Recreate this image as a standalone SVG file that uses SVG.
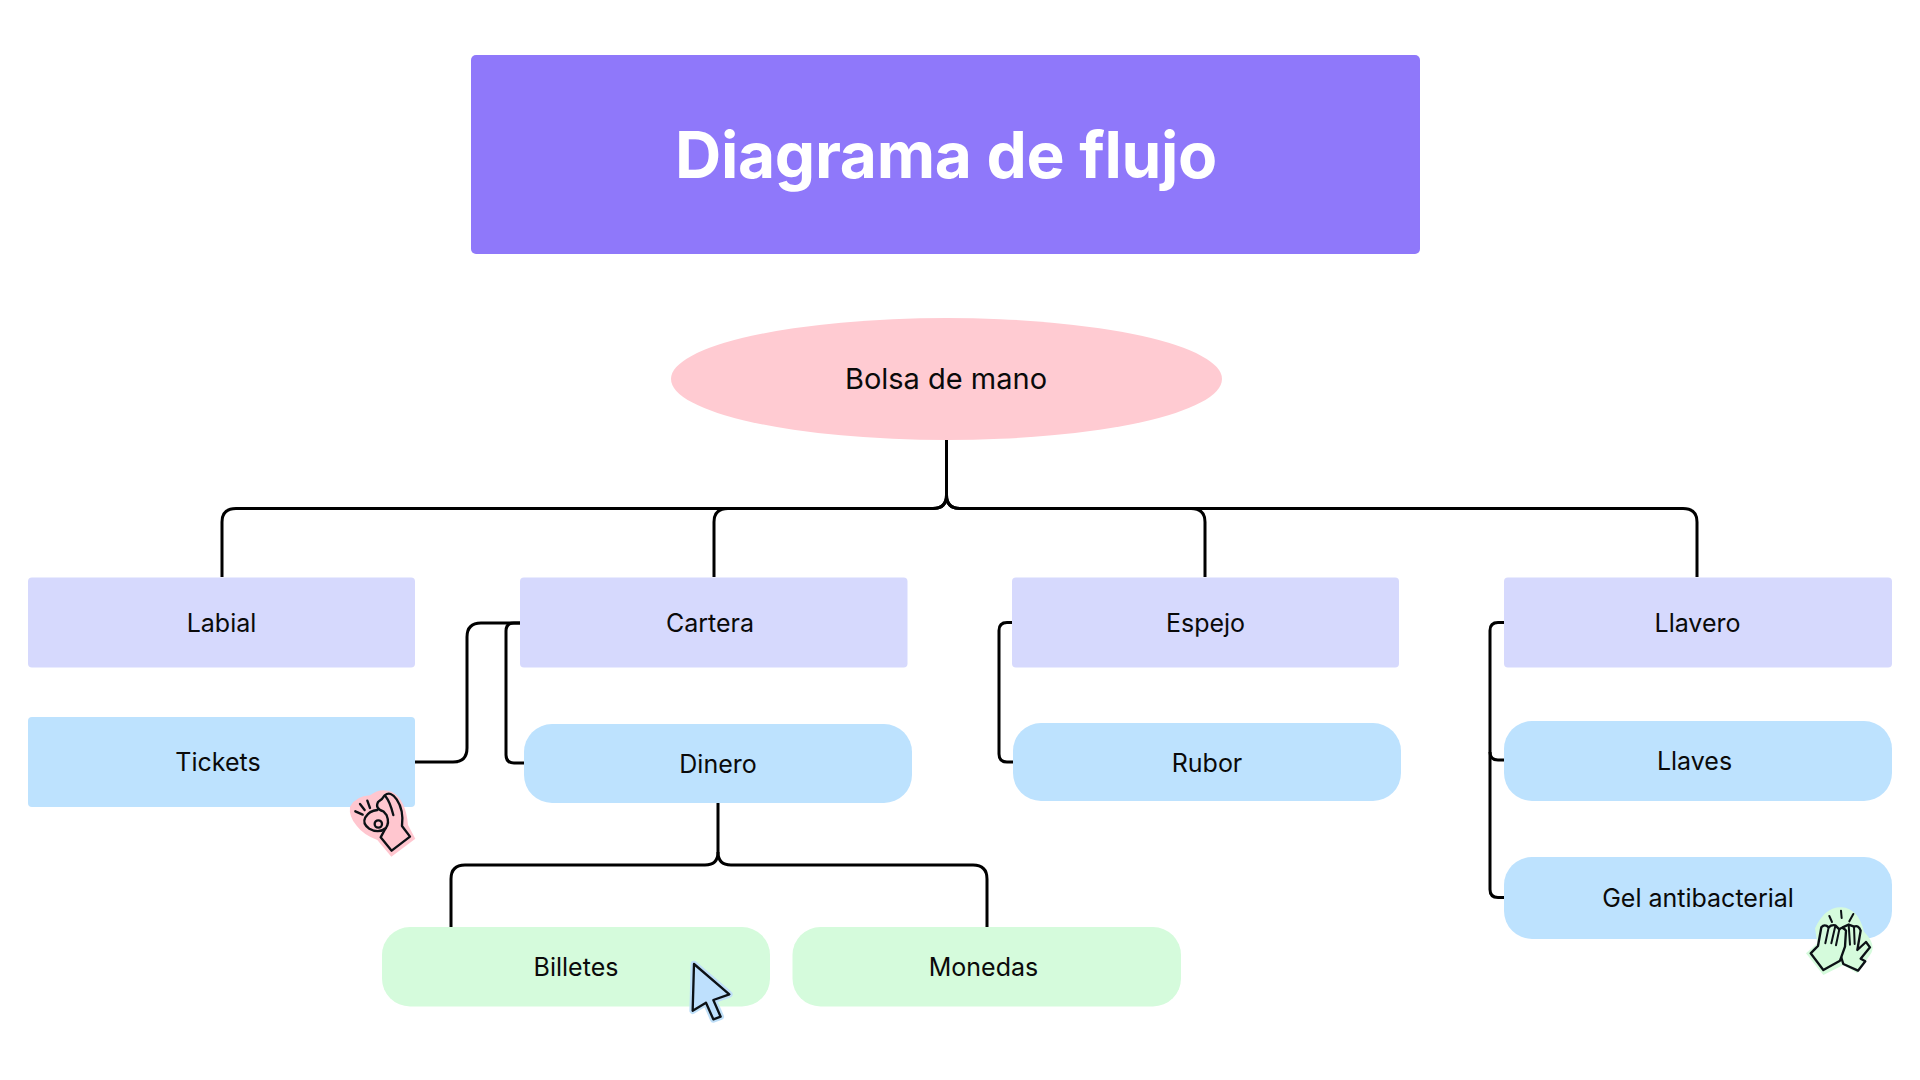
<svg xmlns="http://www.w3.org/2000/svg" width="1920" height="1080" viewBox="0 0 1920 1080">
<style>
text{font-family:Inter,"Liberation Sans",sans-serif;font-size:25px;fill:#0a0a0a;text-anchor:middle;dominant-baseline:central}
.title{font-size:64px;font-weight:700;fill:#fff;letter-spacing:-.3px}
.purple{fill:#d6d9fd}.blue{fill:#bde2fe}.green{fill:#d5fbdc}
.c{fill:none;stroke:#000;stroke-width:3;stroke-linejoin:round;stroke-linecap:butt}
.ink{stroke:#0c1116;stroke-width:7;stroke-linejoin:round;stroke-linecap:round}
</style>
<rect width="1920" height="1080" fill="#fff"/>
<g id="connectors">
<path class="c" d="M946.500 440V495Q946.500 508.500 933 508.500H236Q222 508.500 222 522V577"/>
<path class="c" d="M946.500 495Q946.500 508.500 933 508.500H728Q714 508.500 714 522V577"/>
<path class="c" d="M946.500 495Q946.500 508.500 960 508.500H1191Q1205 508.500 1205 522V577"/>
<path class="c" d="M946.500 495Q946.500 508.500 960 508.500H1683Q1697 508.500 1697 522V577"/>
<path class="c" d="M415 762H453Q467 762 467 748V637Q467 623 481 623H520"/>
<path class="c" d="M520 623H514Q506 623 506 631V755Q506 763 514 763H524"/>
<path class="c" d="M1012 622.500H1007Q999 622.500 999 630.500V754Q999 762 1007 762H1013"/>
<path class="c" d="M1504 622.500H1498Q1490 622.500 1490 630.500V889.500Q1490 897.500 1498 897.500H1504"/>
<path class="c" d="M1490 752Q1490 760 1498 760H1504"/>
<path class="c" d="M718 802V852Q718 865 705 865H465Q451 865 451 879V927"/>
<path class="c" d="M718 852Q718 865 731 865H973Q987 865 987 879V927"/>
</g>
<g id="title"><rect x="471" y="55" width="949" height="199" rx="5" fill="#8f78fa"/><text class="title" x="946" y="154">Diagrama de flujo</text></g>
<g id="bolsa"><ellipse cx="946.500" cy="379" rx="275.500" ry="61" fill="#ffcbd2"/><text x="946" y="378" style="font-size:29px">Bolsa de mano</text></g>
<g id="labial"><rect class="purple" x="28" y="577.500" width="387" height="90" rx="4"/><text x="221.500" y="623">Labial</text></g>
<g id="cartera"><rect class="purple" x="520" y="577.500" width="387.500" height="90" rx="4"/><text x="710" y="623">Cartera</text></g>
<g id="espejo"><rect class="purple" x="1012" y="577.500" width="387" height="90" rx="4"/><text x="1205.500" y="623">Espejo</text></g>
<g id="llavero"><rect class="purple" x="1504" y="577.500" width="388" height="90" rx="4"/><text x="1697.500" y="623">Llavero</text></g>
<g id="tickets"><rect class="blue" x="28" y="717" width="387" height="90" rx="4"/><text x="218" y="762">Tickets</text></g>
<g id="dinero"><rect class="blue" x="524" y="724" width="388" height="79" rx="28"/><text x="718" y="764">Dinero</text></g>
<g id="rubor"><rect class="blue" x="1013" y="723" width="388" height="78" rx="28"/><text x="1207" y="763">Rubor</text></g>
<g id="llaves"><rect class="blue" x="1504" y="721" width="388" height="80" rx="28"/><text x="1694.500" y="761">Llaves</text></g>
<g id="gel"><rect class="blue" x="1504" y="857" width="388" height="82" rx="28"/><text x="1698" y="898">Gel antibacterial</text></g>
<g id="billetes"><rect class="green" x="382" y="927" width="388" height="79.500" rx="28"/><text x="576" y="967">Billetes</text></g>
<g id="monedas"><rect class="green" x="792.500" y="927" width="388.500" height="79.500" rx="28"/><text x="983.500" y="967">Monedas</text></g>
<g id="icon-ok" transform="translate(320 760) scale(.3333)">
<path fill="#ffc6cf" d="M90 140Q108 108 150 106Q180 82 215 95Q258 118 264 195L286 236L214 290L172 240Q130 224 110 197Q86 170 90 140Z"/>
<g fill="#ffc6cf" class="ink">
<path d="M215 272L270 230L246 198Q252 150 230 118Q212 92 194 106Q188 118 174 126Q164 146 190 154L200 166Q210 190 196 206L182 232Z"/>
<path d="M172 150Q148 152 136 172Q126 192 148 206Q176 222 198 204"/>
<path d="M196 108Q210 125 220 165" fill="none"/>
<circle cx="175" cy="192" r="11"/>
<path d="M106 154L128 164M120 132L134 150M142 122L150 144" fill="none"/>
</g></g>
<g id="icon-cursor" transform="translate(670 940) scale(.3333)">
<path d="M72 72L178 163L130 180L152 230L130 238L108 188L68 212Z" fill="#bfdff8" stroke="#bfdff8" stroke-width="20" stroke-linejoin="round"/>
<path d="M72 72L178 163L130 180L152 230L130 238L108 188L68 212Z" fill="#bee0fd" class="ink"/>
</g>
<g id="icon-hands" transform="translate(1790 890) scale(.3333)">
<path fill="#d5fbdc" d="M75 115Q105 50 155 52Q205 55 222 125Q262 165 240 195L202 250L160 225L100 255L48 190L82 160Z"/>
<g fill="#d5fbdc" class="ink">
<path d="M160 222L204 242L226 214L212 206L240 172L228 156L202 180L212 122Q206 104 192 110L176 104L158 112L150 190Z"/>
<path d="M62 190L100 240L150 212L165 170L168 122Q158 108 148 118L136 106Q124 104 116 112Q104 100 94 112L84 168L76 176Z"/>
</g>
<g fill="none" class="ink" style="stroke-width:6">
<path d="M116 112L106 160M136 108L124 160M148 118L138 166M176 104L180 164M192 110L194 162"/>
<path d="M118 78L126 96M153 62L155 84M190 72L178 94"/>
</g></g>
</svg>
